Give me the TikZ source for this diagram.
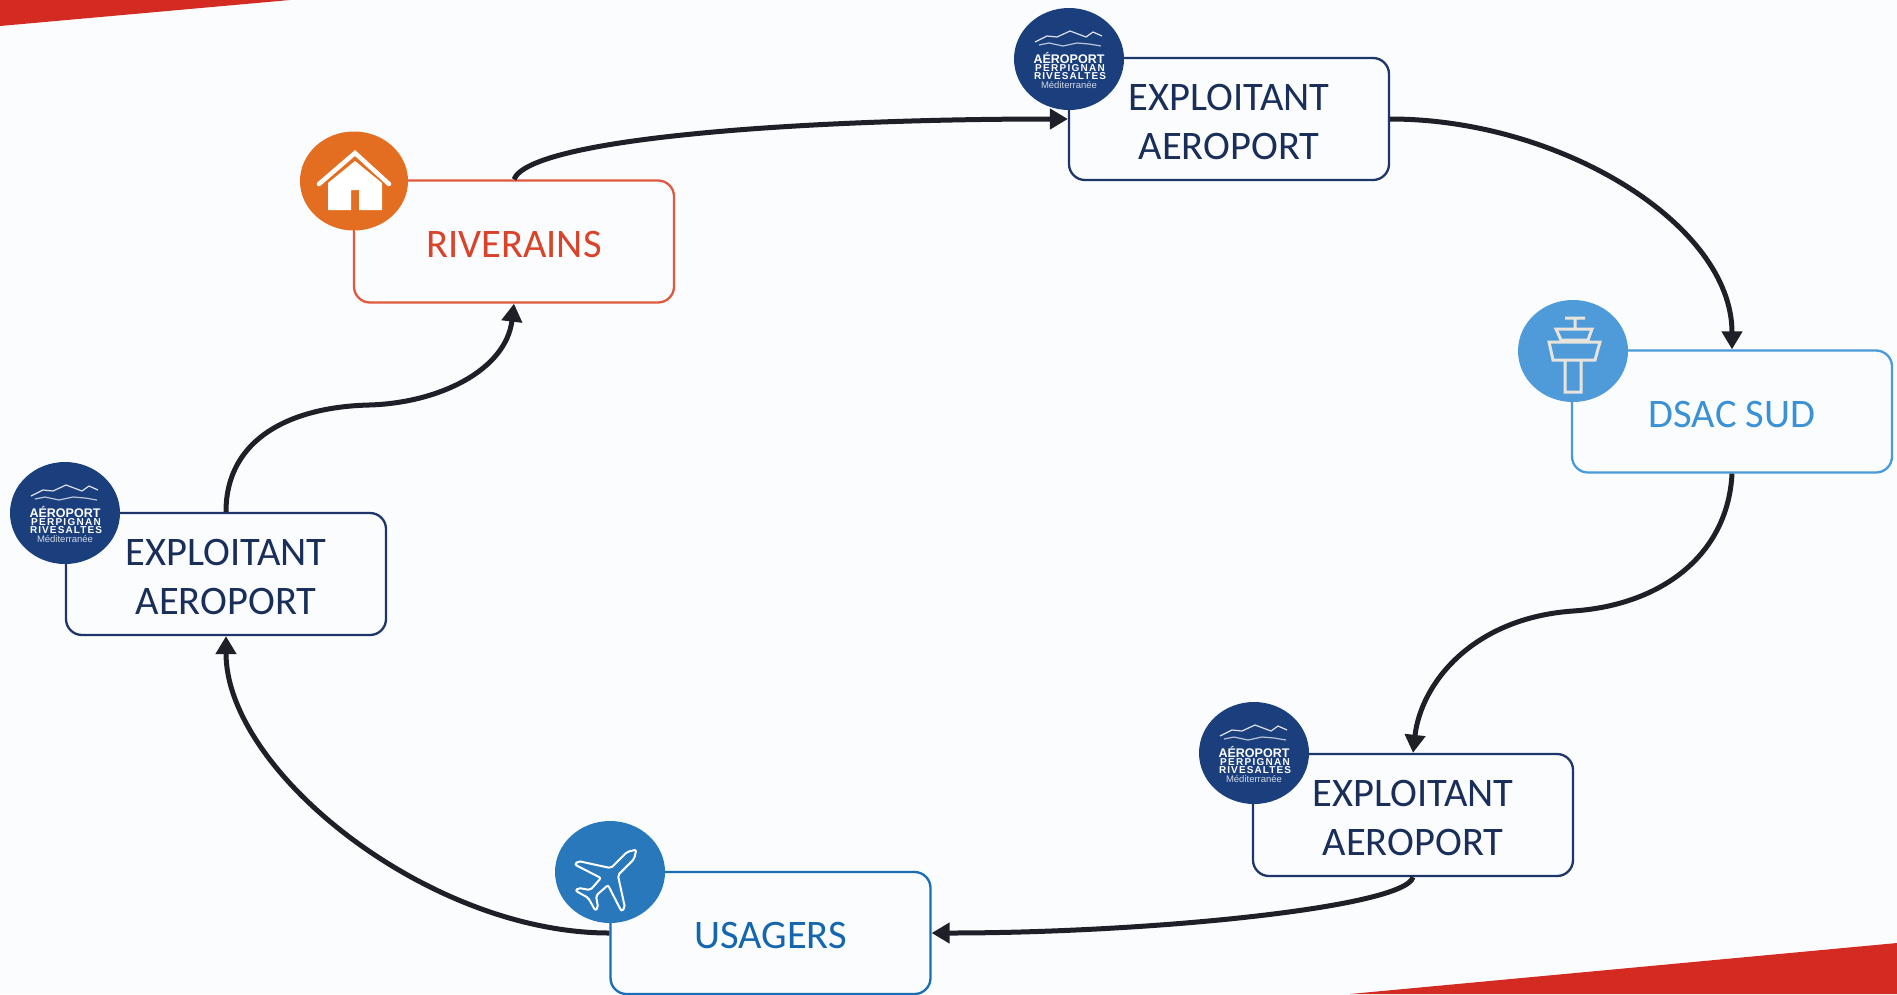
\documentclass[tikz,border=0pt]{standalone}
\usepackage{fontspec}
\setmainfont{Carlito}
\newfontfamily\logofont{Liberation Sans}
\usetikzlibrary{arrows.meta,shapes.geometric}
\newcommand\cardstrut{\rule{0pt}{32pt}}
\definecolor{pagebg}{HTML}{FBFCFE}
\definecolor{bandred}{HTML}{D32B21}
\definecolor{navy}{HTML}{1B3F7D}
\definecolor{navyline}{HTML}{1D3568}
\definecolor{navytext}{HTML}{1A2E5A}
\definecolor{rvline}{HTML}{E0593F}
\definecolor{rvtext}{HTML}{D8432A}
\definecolor{rvdisc}{HTML}{E36E21}
\definecolor{dsline}{HTML}{4A9ADB}
\definecolor{dstext}{HTML}{3A91D6}
\definecolor{dsdisc}{HTML}{4F9AD8}
\definecolor{usline}{HTML}{1A6CB4}
\definecolor{ustext}{HTML}{1466AE}
\definecolor{usdisc}{HTML}{2A78BC}
\definecolor{flow}{HTML}{1F1F28}
\definecolor{towerline}{HTML}{E8E4DC}
\tikzset{
  card/.style={draw=#1,line width=2.3pt,rounded corners=16pt,fill=pagebg,minimum width=320pt,minimum height=122pt,inner sep=0pt,align=center,font=\fontsize{40.5}{49}\selectfont},
  disc/.style={ellipse,fill=#1,draw=none,minimum width=110pt,minimum height=102pt,inner sep=0pt},
  flowline/.style={draw=flow,line width=5pt,-{Triangle[length=18pt,width=20pt]}},
  logotext/.style={text=white,inner sep=0pt},
  pics/logo/.style={code={
    \draw[white!85!navy,line width=1.2pt,line join=round] (-34,-17) -- (-22,-23) -- (-12,-22) -- (1,-28) -- (17,-22) -- (24,-27) -- (33,-23);
    \draw[white!70!navy,line width=1.2pt] (-30,-14) -- (-20,-16) -- (-6,-13) -- (8,-16) -- (20,-15) -- (32,-13);
    \node[logotext,font=\logofont\bfseries\fontsize{12.5}{12.5}\selectfont] (-a) at (0,-1) {AÉROPORT};
    \node[logotext,font=\logofont\bfseries\fontsize{10}{10}\selectfont\addfontfeature{LetterSpace=13}] (-b) at (1,9) {PERPIGNAN};
    \node[logotext,font=\logofont\bfseries\fontsize{10}{10}\selectfont\addfontfeature{LetterSpace=11}] (-c) at (1,17) {RIVESALTES};
    \node[logotext,text=white!80!navy,font=\logofont\fontsize{9.5}{9.5}\selectfont] (-d) at (0,26) {Méditerranée};
  }},
  pics/house/.style={code={
    \draw[white,line width=4.5pt,line cap=round,line join=miter] (-35,3) -- (1,-28) -- (35,3);
    \fill[white] (-26,29) -- (-26,2) -- (1,-20) -- (28,2) -- (28,29) -- (5,29) -- (5,9) -- (-3,9) -- (-3,29) -- cycle;
  }},
  pics/tower/.style={code={
    \draw[towerline,line width=3pt,line join=miter] (-8,-33) -- (12,-33) (2,-33) -- (2,-22)
      (-17,-22) -- (19,-22) -- (15,-11) -- (-12,-11) -- cycle
      (-24,-9) -- (27,-9) -- (22,9) -- (-20,9) -- cycle
      (-8,9) -- (-8,41) -- (8,41) -- (8,9);
  }},
  pics/plane/.style={code={
    \draw[white,line width=2pt,fill=usdisc,rounded corners=2pt,rotate=-45]
      (0,-40) -- (5,-32) -- (5,-9) -- (33,9) -- (33,14) -- (5,5) -- (4,21) -- (14,28) -- (14,32) -- (0,28)
      -- (-14,32) -- (-14,28) -- (-4,21) -- (-5,5) -- (-33,14) -- (-33,9) -- (-5,-9) -- (-5,-32) -- cycle;
  }}
}
\begin{document}
\begin{tikzpicture}[x=1pt,y=-1pt]
\useasboundingbox (0,0) rectangle (1897,994);
\fill[pagebg] (0,0) rectangle (1897,994);
\fill[bandred] (0,0) -- (290,0) -- (0,26) -- cycle;
\fill[bandred] (1350,994) -- (1897,943) -- (1897,994) -- cycle;

% boxes
\node[card=rvline,text=rvtext] (rv) at (514,241.5) {\cardstrut RIVERAINS};
\node[card=navyline,text=navytext] (ea1) at (1229,119) {\cardstrut EXPLOITANT\\AEROPORT};
\node[card=dsline,text=dstext] (ds) at (1732,411.5) {\cardstrut DSAC SUD};
\node[card=navyline,text=navytext] (ea2) at (1413,815) {\cardstrut EXPLOITANT\\AEROPORT};
\node[card=usline,text=ustext] (us) at (770.5,933) {\cardstrut USAGERS};
\node[card=navyline,text=navytext] (ea3) at (226,574) {\cardstrut EXPLOITANT\\AEROPORT};

% connectors
\coordinate (m1) at (1573,611);
\coordinate (m2) at (369,405);
\draw[flowline] (rv.north) .. controls +(16,-41) and +(-268,0) .. (ea1.west);
\draw[flowline] (ea1.east) .. controls +(170,0) and +(0,-125) .. (ds.north);
\draw[flowline] (ds.south) .. controls +(-4,80) and +(90,-6) .. (m1) .. controls +(-100,7) and +(8,-70) .. (ea2.north);
\draw[flowline] (ea2.south) .. controls +(-8,30) and +(220,0) .. (us.east);
\draw[flowline] (us.west) .. controls +(-181,0) and +(0,135) .. (ea3.south);
\draw[flowline] (ea3.north) .. controls +(0,-73) and +(-79,2) .. (m2) .. controls +(71,-2) and +(-8,66) .. (rv.south);

% discs and icons
\node[disc=rvdisc,minimum width=108pt,minimum height=99pt] (rvd) at (354,181) {};
\pic (rvi) at (rvd.center) {house};
\node[disc=navy] (ea1d) at (1069,59) {};
\pic (ea1l) at (ea1d.center) {logo};
\node[disc=dsdisc] (dsd) at (1573,351) {};
\pic (dsi) at (dsd.center) {tower};
\node[disc=navy] (ea2d) at (1254,753) {};
\pic (ea2l) at (ea2d.center) {logo};
\node[disc=usdisc] (usd) at (610,872) {};
\pic (usi) at ([shift={(-2,6)}]usd.center) {plane};
\node[disc=navy] (ea3d) at (65,513) {};
\pic (ea3l) at (ea3d.center) {logo};
\end{tikzpicture}
\end{document}
